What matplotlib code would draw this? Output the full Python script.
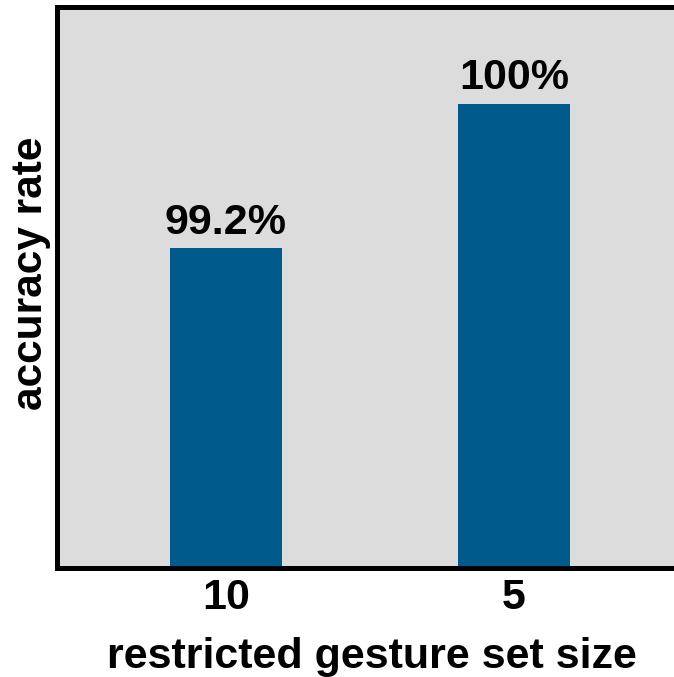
import matplotlib.pyplot as plt
import numpy as np

categories = ["10", "5"]
accuracy = [99.2, 100.0]
value_labels = ["99.2%", "100%"]

plt.rcParams["font.family"] = ["Liberation Sans", "DejaVu Sans"]
plt.rcParams["font.weight"] = "bold"

fig = plt.figure(figsize=(6.74, 6.77), dpi=100)
ax = fig.add_axes([0.0846, 0.161, 0.934, 0.828])
ax.set_facecolor("#dcdcdc")

x = np.arange(len(categories))
bars = ax.bar(x, accuracy, width=0.39, color="#005a8c", zorder=2)
for b, lab in zip(bars, value_labels):
    ax.text(b.get_x() + b.get_width() / 2, b.get_height() + 0.03, lab,
            ha="center", va="bottom", fontsize=31, fontweight="bold")

ax.set_xlim(-0.587, 1.6)
ax.set_ylim(97.43, 100.533)
ax.set_xticks(x)
ax.set_xticklabels(categories, fontsize=31, fontweight="bold")
ax.set_yticks([])
ax.tick_params(axis="x", length=0, pad=7)
ax.set_xlabel("restricted gesture set size", fontsize=31, fontweight="bold", labelpad=14)
ax.set_ylabel("accuracy rate", fontsize=30.5, fontweight="bold", labelpad=4)
ax.yaxis.label.set_y(0.525)
for s in ax.spines.values():
    s.set_linewidth(3.6)

plt.savefig("out.png", dpi=100)
